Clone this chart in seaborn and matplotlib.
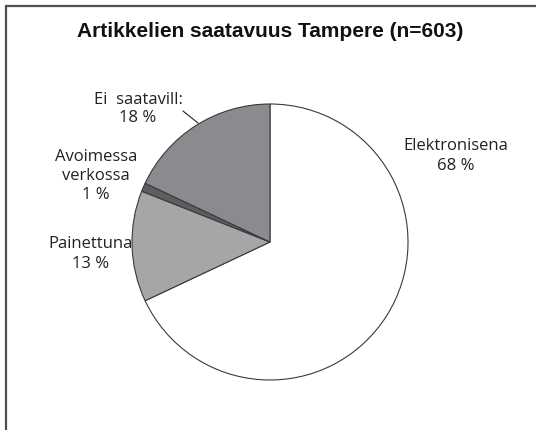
import matplotlib
matplotlib.use("Agg")
import matplotlib.pyplot as plt
import seaborn as sns
from matplotlib.patches import Rectangle

# data
labels = ["Elektronisena", "Painettuna", "Avoimessa\nverkossa", "Ei  saatavill:"]
shares = [68, 13, 1, 18]
colors = ["#ffffff", "#a6a6a8", "#5e5e60", "#8b8b8f"]
title = "Artikkelien saatavuus Tampere (n=603)"

sns.set_style("white")
plt.rcParams["font.family"] = ["Open Sans", "DejaVu Sans"]

W, H = 536, 431
fig = plt.figure(figsize=(W / 100, H / 100), dpi=100)
ax = fig.add_axes([0, 0, 1, 1])

# pie in pixel coordinates (y up)
cx, cy, r = 270, H - 243, 138
ax.pie(shares, colors=colors, startangle=90, counterclock=False,
       center=(cx, cy), radius=r,
       wedgeprops=dict(edgecolor="#3a3a3a", linewidth=0.8))
ax.set_xlim(0, W)
ax.set_ylim(0, H)
ax.set_aspect("equal")
ax.axis("off")

# labels (image coords -> y up)
pos = [(456, 156), (91, 254), (96, 176), (138, 109)]
for lab, val, (x, y) in zip(labels, shares, pos):
    ax.text(x, H - y, f"{lab}\n{val} %", ha="center", va="center",
            fontsize=12, color="#222222", linespacing=1.25)

# leader line for the last label
ax.plot([183, 198], [H - 112, H - 124], color="#222222", linewidth=0.8)

ax.text(270, H - 31, title, ha="center", va="center", fontsize=15,
        fontweight="bold", family=["Liberation Sans", "DejaVu Sans"], color="#111111")

# chart area frame (cropped at right and bottom)
fig.patches.append(Rectangle((6 / W, -0.1), 1.2, (H - 7) / H + 0.1,
                             transform=fig.transFigure, fill=False,
                             edgecolor="#505050", linewidth=1.6))

fig.savefig("out.png", dpi=100)
